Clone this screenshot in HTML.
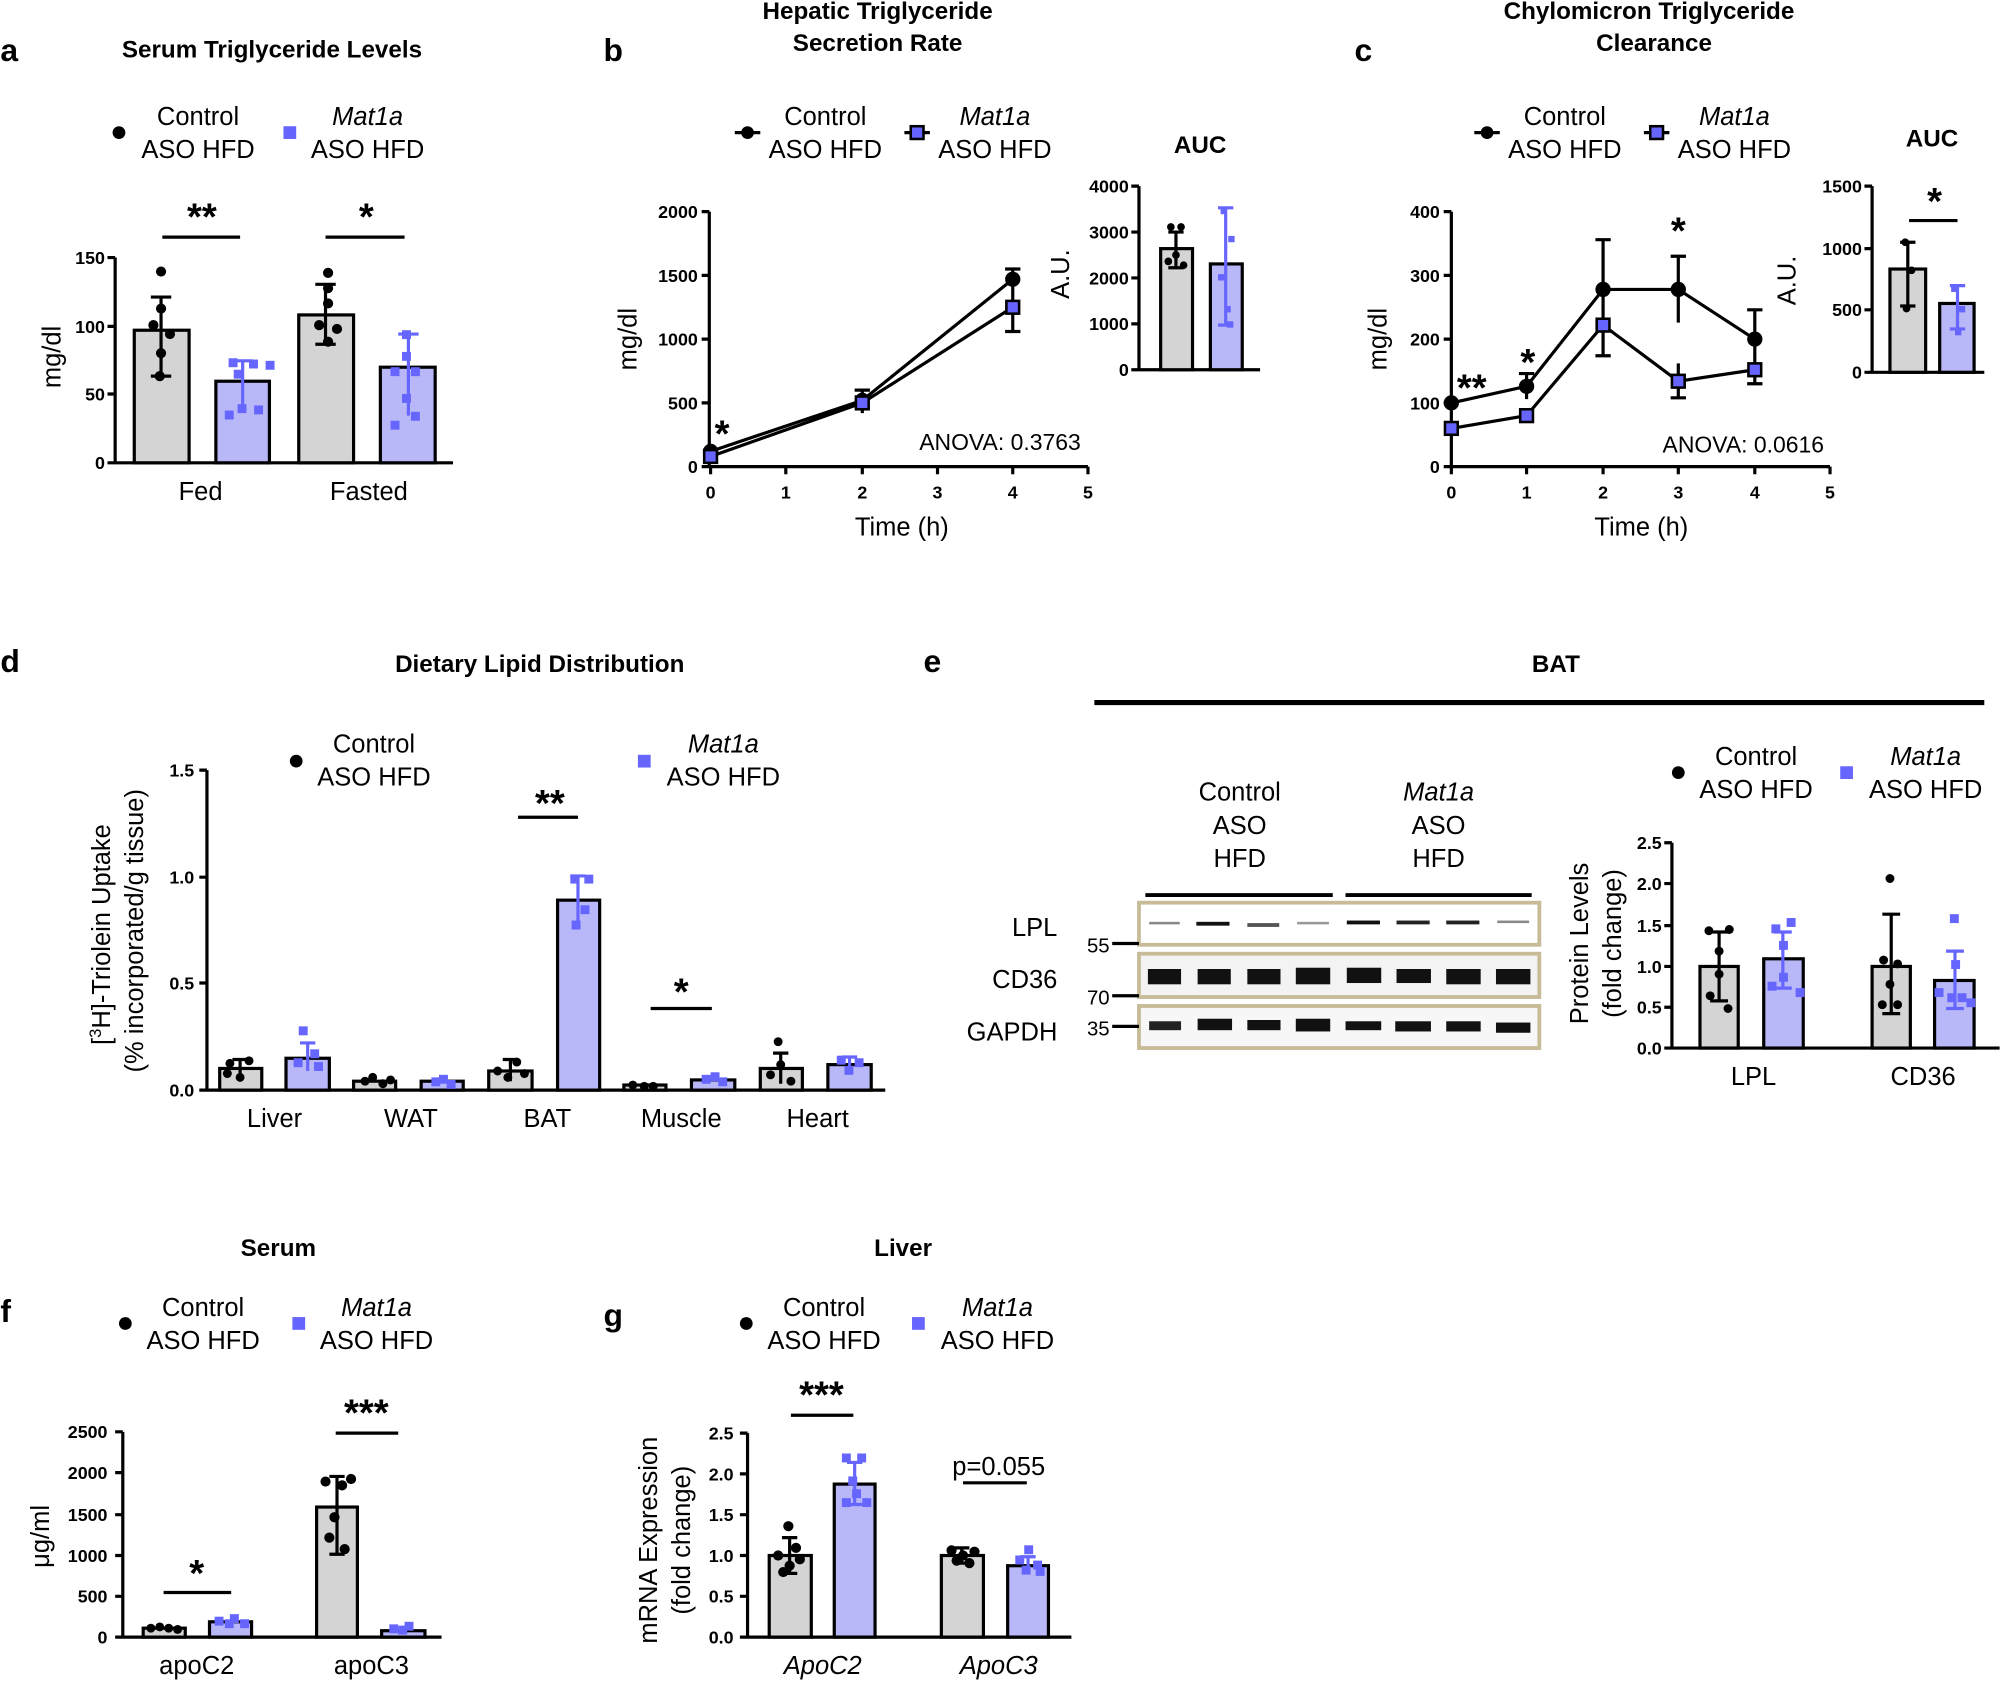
<!DOCTYPE html>
<html><head><meta charset="utf-8"><style>
html,body{margin:0;padding:0;background:#fff}
svg{display:block}
text{font-family:"Liberation Sans",sans-serif;fill:#000}
.t{font-size:20px}
.st{font-size:28px;font-weight:bold}
.k{font-size:14px;font-weight:bold}
.b{font-weight:bold;font-size:19px}
.L{font-weight:bold;font-size:25px}
.ax{stroke:#000;stroke-width:2.5;fill:none}
.g{fill:#d4d4d4;stroke:#000;stroke-width:2.5}
.p{fill:#b8b7f7;stroke:#000;stroke-width:2.5}
.e{stroke:#000;stroke-width:2.5;fill:none}
.ep{stroke:#6666ff;stroke-width:2.5;fill:none}
.d{fill:#000}
.s{fill:#6666ff}
.band{fill:#111}
</style></head><body>
<svg width="2000" height="1683" viewBox="0 0 1568 1320" xmlns="http://www.w3.org/2000/svg">
<!-- Panel a -->
<text class="L" x="0" y="48">a</text>
<text class="b" x="213" y="45" text-anchor="middle">Serum Triglyceride Levels</text>
<circle cx="93" cy="104" r="5" class="d"/><text class="t" x="155" y="98" text-anchor="middle">Control</text><text class="t" x="155" y="124" text-anchor="middle">ASO HFD</text>
<rect x="222" y="99" width="10" height="10" class="s"/><text class="t" x="288" y="98" text-anchor="middle" font-style="italic">Mat1a</text><text class="t" x="288" y="124" text-anchor="middle">ASO HFD</text>
<path class="ax" d="M90 202V363H355M84 363H90M84 309H90M84 256H90M84 202H90"/>
<text class="k" x="82" y="368" text-anchor="end">0</text><text class="k" x="82" y="314" text-anchor="end">50</text><text class="k" x="82" y="261" text-anchor="end">100</text><text class="k" x="82" y="207" text-anchor="end">150</text>
<text class="t" transform="translate(47,280) rotate(-90)" text-anchor="middle">mg/dl</text>
<rect class="g" x="105" y="259" width="43" height="104"/><rect class="p" x="169" y="299" width="42" height="64"/>
<rect class="g" x="234" y="247" width="43" height="116"/><rect class="p" x="298" y="288" width="43" height="75"/>
<path class="e" d="M126 233V295M118 233H134M118 295H134M255 223V270M247 223H263M247 270H263"/>
<path class="ep" d="M190 283V318M182 283H198M320 262V326M312 262H328"/>
<circle class="d" cx="126" cy="213" r="4"/><circle class="d" cx="126" cy="242" r="4"/><circle class="d" cx="120" cy="255" r="4"/><circle class="d" cx="133" cy="262" r="4"/><circle class="d" cx="126" cy="277" r="4"/><circle class="d" cx="125" cy="295" r="4"/>
<circle class="d" cx="257" cy="214" r="4"/><circle class="d" cx="257" cy="226" r="4"/><circle class="d" cx="257" cy="238" r="4"/><circle class="d" cx="250" cy="255" r="4"/><circle class="d" cx="264" cy="258" r="4"/><circle class="d" cx="257" cy="268" r="4"/>
<rect class="s" x="216" y="180" width="0" height="0"/>
<rect class="s" x="179" y="281" width="7" height="7"/><rect class="s" x="195" y="282" width="7" height="7"/><rect class="s" x="208" y="283" width="7" height="7"/><rect class="s" x="183" y="290" width="7" height="7"/><rect class="s" x="186" y="317" width="7" height="7"/><rect class="s" x="199" y="318" width="7" height="7"/><rect class="s" x="176" y="322" width="7" height="7"/>
<rect class="s" x="315" y="259" width="7" height="7"/><rect class="s" x="315" y="276" width="7" height="7"/><rect class="s" x="306" y="288" width="7" height="7"/><rect class="s" x="322" y="288" width="7" height="7"/><rect class="s" x="315" y="309" width="7" height="7"/><rect class="s" x="322" y="323" width="7" height="7"/><rect class="s" x="306" y="330" width="7" height="7"/>
<path class="e" d="M127 186H188M255 186H317"/>
<text class="st" x="158" y="180" text-anchor="middle" style="font-size:30px">**</text><text class="st" x="287" y="180" text-anchor="middle" style="font-size:30px">*</text>
<text class="t" x="157" y="392" text-anchor="middle">Fed</text><text class="t" x="289" y="392" text-anchor="middle">Fasted</text>

<!-- Panel b -->
<text class="L" x="473" y="48">b</text>
<text class="b" x="688" y="15" text-anchor="middle">Hepatic Triglyceride</text><text class="b" x="688" y="40" text-anchor="middle">Secretion Rate</text>
<path class="e" d="M576 104H596"/><circle cx="586" cy="104" r="5" class="d"/><text class="t" x="647" y="98" text-anchor="middle">Control</text><text class="t" x="647" y="124" text-anchor="middle">ASO HFD</text>
<path class="e" d="M709 104H729"/><rect x="714" y="99" width="10" height="10" fill="#6666ff" stroke="#000" stroke-width="2"/><text class="t" x="780" y="98" text-anchor="middle" font-style="italic">Mat1a</text><text class="t" x="780" y="124" text-anchor="middle">ASO HFD</text>
<path class="ax" d="M556 166V366H853M550 366H556M550 316H556M550 266H556M550 216H556M550 166H556M557 366V372M616 366V372M676 366V372M735 366V372M794 366V372M853 366V372"/>
<text class="k" x="547" y="371" text-anchor="end">0</text><text class="k" x="547" y="321" text-anchor="end">500</text><text class="k" x="547" y="271" text-anchor="end">1000</text><text class="k" x="547" y="221" text-anchor="end">1500</text><text class="k" x="547" y="171" text-anchor="end">2000</text>
<text class="k" x="557" y="391" text-anchor="middle">0</text><text class="k" x="616" y="391" text-anchor="middle">1</text><text class="k" x="676" y="391" text-anchor="middle">2</text><text class="k" x="735" y="391" text-anchor="middle">3</text><text class="k" x="794" y="391" text-anchor="middle">4</text><text class="k" x="853" y="391" text-anchor="middle">5</text>
<text class="t" x="707" y="420" text-anchor="middle">Time (h)</text>
<text class="t" transform="translate(499,266) rotate(-90)" text-anchor="middle">mg/dl</text>
<path class="e" d="M557 354L676 314L794 219M557 358L676 316L794 241M676 306V324M670 306H682M794 211V260M788 211H800M788 260H800"/>
<circle class="d" cx="557" cy="354" r="6"/><circle class="d" cx="676" cy="314" r="6"/><circle class="d" cx="794" cy="219" r="6"/>
<rect x="552" y="353" width="10" height="10" fill="#6666ff" stroke="#000" stroke-width="2"/><rect x="671" y="311" width="10" height="10" fill="#6666ff" stroke="#000" stroke-width="2"/><rect x="789" y="236" width="10" height="10" fill="#6666ff" stroke="#000" stroke-width="2"/>
<text class="st" x="566" y="350" text-anchor="middle" style="font-size:30px">*</text>
<text class="t" x="784" y="353" text-anchor="middle" style="font-size:18px">ANOVA: 0.3763</text>
<text class="b" x="941" y="120" text-anchor="middle">AUC</text>
<text class="t" transform="translate(838,215) rotate(-90)" text-anchor="middle">A.U.</text>
<path class="ax" d="M893 146V290H988M887 290H893M887 254H893M887 218H893M887 182H893M887 146H893"/>
<text class="k" x="885" y="295" text-anchor="end">0</text><text class="k" x="885" y="259" text-anchor="end">1000</text><text class="k" x="885" y="223" text-anchor="end">2000</text><text class="k" x="885" y="187" text-anchor="end">3000</text><text class="k" x="885" y="151" text-anchor="end">4000</text>
<rect class="g" x="910" y="195" width="25" height="95"/><rect class="p" x="949" y="207" width="25" height="83"/>
<path class="e" d="M922 182V210M916 182H928M916 210H928"/><path class="ep" d="M961 163V255M955 163H967M955 255H967"/>
<circle class="d" cx="918" cy="178" r="3"/><circle class="d" cx="926" cy="178" r="3"/><circle class="d" cx="922" cy="200" r="3"/><circle class="d" cx="928" cy="208" r="3"/><circle class="d" cx="916" cy="205" r="3"/>
<rect class="s" x="957" y="163" width="5" height="5"/><rect class="s" x="963" y="185" width="5" height="5"/><rect class="s" x="955" y="215" width="5" height="5"/><rect class="s" x="960" y="240" width="5" height="5"/><rect class="s" x="962" y="252" width="5" height="5"/>

<!-- Panel c -->
<text class="L" x="1062" y="48">c</text>
<text class="b" x="1293" y="15" text-anchor="middle">Chylomicron Triglyceride</text><text class="b" x="1297" y="40" text-anchor="middle">Clearance</text>
<path class="e" d="M1156 104H1176"/><circle cx="1166" cy="104" r="5" class="d"/><text class="t" x="1227" y="98" text-anchor="middle">Control</text><text class="t" x="1227" y="124" text-anchor="middle">ASO HFD</text>
<path class="e" d="M1289 104H1309"/><rect x="1294" y="99" width="10" height="10" fill="#6666ff" stroke="#000" stroke-width="2"/><text class="t" x="1360" y="98" text-anchor="middle" font-style="italic">Mat1a</text><text class="t" x="1360" y="124" text-anchor="middle">ASO HFD</text>
<path class="ax" d="M1138 166V366H1435M1132 366H1138M1132 316H1138M1132 266H1138M1132 216H1138M1132 166H1138M1138 366V372M1197 366V372M1257 366V372M1316 366V372M1376 366V372M1435 366V372"/>
<text class="k" x="1129" y="371" text-anchor="end">0</text><text class="k" x="1129" y="321" text-anchor="end">100</text><text class="k" x="1129" y="271" text-anchor="end">200</text><text class="k" x="1129" y="221" text-anchor="end">300</text><text class="k" x="1129" y="171" text-anchor="end">400</text>
<text class="k" x="1138" y="391" text-anchor="middle">0</text><text class="k" x="1197" y="391" text-anchor="middle">1</text><text class="k" x="1257" y="391" text-anchor="middle">2</text><text class="k" x="1316" y="391" text-anchor="middle">3</text><text class="k" x="1376" y="391" text-anchor="middle">4</text><text class="k" x="1435" y="391" text-anchor="middle">5</text>
<text class="t" x="1287" y="420" text-anchor="middle">Time (h)</text>
<text class="t" transform="translate(1087,266) rotate(-90)" text-anchor="middle">mg/dl</text>
<path class="e" d="M1138 316L1197 303L1257 227L1316 227L1376 266M1138 336L1197 326L1257 255L1316 299L1376 290"/>
<path class="e" d="M1197 293V313M1191 293H1203M1257 188V279M1251 188H1263M1251 279H1263M1316 201V253M1310 201H1322M1316 285V312M1310 312H1322M1376 243V301M1370 243H1382M1370 301H1382"/>
<circle class="d" cx="1138" cy="316" r="6"/><circle class="d" cx="1197" cy="303" r="6"/><circle class="d" cx="1257" cy="227" r="6"/><circle class="d" cx="1316" cy="227" r="6"/><circle class="d" cx="1376" cy="266" r="6"/>
<rect x="1133" y="331" width="10" height="10" fill="#6666ff" stroke="#000" stroke-width="2"/><rect x="1192" y="321" width="10" height="10" fill="#6666ff" stroke="#000" stroke-width="2"/><rect x="1252" y="250" width="10" height="10" fill="#6666ff" stroke="#000" stroke-width="2"/><rect x="1311" y="294" width="10" height="10" fill="#6666ff" stroke="#000" stroke-width="2"/><rect x="1371" y="285" width="10" height="10" fill="#6666ff" stroke="#000" stroke-width="2"/>
<text class="st" x="1154" y="314" text-anchor="middle" style="font-size:30px">**</text><text class="st" x="1198" y="294" text-anchor="middle" style="font-size:30px">*</text><text class="st" x="1316" y="191" text-anchor="middle" style="font-size:30px">*</text>
<text class="t" x="1367" y="355" text-anchor="middle" style="font-size:18px">ANOVA: 0.0616</text>
<text class="b" x="1515" y="115" text-anchor="middle">AUC</text>
<text class="t" transform="translate(1408,220) rotate(-90)" text-anchor="middle">A.U.</text>
<path class="ax" d="M1468 146V292H1556M1462 292H1468M1462 243H1468M1462 195H1468M1462 146H1468"/>
<text class="k" x="1460" y="297" text-anchor="end">0</text><text class="k" x="1460" y="248" text-anchor="end">500</text><text class="k" x="1460" y="200" text-anchor="end">1000</text><text class="k" x="1460" y="151" text-anchor="end">1500</text>
<rect class="g" x="1482" y="211" width="28" height="81"/><rect class="p" x="1521" y="238" width="27" height="54"/>
<path class="e" d="M1496 190V240M1490 190H1502M1490 240H1502"/><path class="ep" d="M1535 224V258M1529 224H1541M1529 258H1541"/>
<circle class="d" cx="1494" cy="190" r="3"/><circle class="d" cx="1499" cy="212" r="3"/><circle class="d" cx="1495" cy="242" r="3"/>
<rect class="s" x="1530" y="224" width="5" height="5"/><rect class="s" x="1536" y="240" width="5" height="5"/><rect class="s" x="1533" y="258" width="5" height="5"/>
<path class="e" d="M1497 173H1535"/><text class="st" x="1517" y="168" text-anchor="middle" style="font-size:30px">*</text>

<!-- Panel d -->
<text class="L" x="0" y="527">d</text>
<text class="b" x="423" y="527" text-anchor="middle">Dietary Lipid Distribution</text>
<circle cx="232" cy="597" r="5" class="d"/><text class="t" x="293" y="590" text-anchor="middle">Control</text><text class="t" x="293" y="616" text-anchor="middle">ASO HFD</text>
<rect x="500" y="592" width="10" height="10" class="s"/><text class="t" x="567" y="590" text-anchor="middle" font-style="italic">Mat1a</text><text class="t" x="567" y="616" text-anchor="middle">ASO HFD</text>
<path class="ax" d="M162 604V855H694M156 855H162M156 771H162M156 688H162M156 604H162"/>
<text class="k" x="152" y="860" text-anchor="end">0.0</text><text class="k" x="152" y="776" text-anchor="end">0.5</text><text class="k" x="152" y="693" text-anchor="end">1.0</text><text class="k" x="152" y="609" text-anchor="end">1.5</text>
<text class="t" transform="translate(86,733) rotate(-90)" text-anchor="middle">[<tspan style="font-size:13px" dy="-7">3</tspan><tspan dy="7">H]-Triolein Uptake</tspan></text>
<text class="t" transform="translate(112,730) rotate(-90)" text-anchor="middle">(% incorporated/g tissue)</text>
<rect class="g" x="172" y="838" width="33" height="17"/><rect class="p" x="224" y="830" width="34" height="25"/>
<rect class="g" x="277" y="848" width="33" height="7"/><rect class="p" x="330" y="848" width="33" height="7"/>
<rect class="g" x="383" y="840" width="34" height="15"/><rect class="p" x="437" y="706" width="33" height="149"/>
<rect class="g" x="489" y="851" width="33" height="4"/><rect class="p" x="542" y="847" width="34" height="8"/>
<rect class="g" x="596" y="838" width="33" height="17"/><rect class="p" x="649" y="835" width="34" height="20"/>
<path class="e" d="M188 831V846M182 831H194M400 831V848M394 831H406M612 826V850M606 826H618"/>
<path class="ep" d="M241 818V840M235 818H247M453 687V723M447 687H459M666 829V840M660 829H672"/>
<circle class="d" cx="180" cy="834" r="3.5"/><circle class="d" cx="195" cy="832" r="3.5"/><circle class="d" cx="188" cy="845" r="3.5"/><circle class="d" cx="178" cy="842" r="3.5"/><circle class="d" cx="286" cy="848" r="3.5"/><circle class="d" cx="300" cy="850" r="3.5"/><circle class="d" cx="292" cy="845" r="3.5"/><circle class="d" cx="306" cy="847" r="3.5"/>
<circle class="d" cx="390" cy="840" r="3.5"/><circle class="d" cx="405" cy="833" r="3.5"/><circle class="d" cx="398" cy="845" r="3.5"/><circle class="d" cx="411" cy="842" r="3.5"/><circle class="d" cx="496" cy="851" r="3.5"/><circle class="d" cx="505" cy="852" r="3.5"/><circle class="d" cx="512" cy="852" r="3.5"/>
<circle class="d" cx="610" cy="817" r="3.5"/><circle class="d" cx="604" cy="843" r="3.5"/><circle class="d" cx="620" cy="848" r="3.5"/><circle class="d" cx="612" cy="835" r="3.5"/>
<rect class="s" x="234" y="805" width="7" height="7"/><rect class="s" x="243" y="823" width="7" height="7"/><rect class="s" x="230" y="830" width="7" height="7"/><rect class="s" x="246" y="833" width="7" height="7"/>
<rect class="s" x="338" y="845" width="7" height="7"/><rect class="s" x="350" y="847" width="7" height="7"/><rect class="s" x="344" y="843" width="7" height="7"/>
<rect class="s" x="447" y="686" width="7" height="7"/><rect class="s" x="455" y="710" width="7" height="7"/><rect class="s" x="448" y="722" width="7" height="7"/><rect class="s" x="458" y="686" width="7" height="7"/>
<rect class="s" x="550" y="843" width="7" height="7"/><rect class="s" x="563" y="845" width="7" height="7"/><rect class="s" x="557" y="841" width="7" height="7"/>
<rect class="s" x="656" y="828" width="7" height="7"/><rect class="s" x="670" y="830" width="7" height="7"/><rect class="s" x="662" y="836" width="7" height="7"/>
<path class="e" d="M406 641H453M510 791H558"/>
<text class="st" x="431" y="640" text-anchor="middle" style="font-size:30px">**</text><text class="st" x="534" y="788" text-anchor="middle" style="font-size:30px">*</text>
<text class="t" x="215" y="884" text-anchor="middle">Liver</text><text class="t" x="322" y="884" text-anchor="middle">WAT</text><text class="t" x="429" y="884" text-anchor="middle">BAT</text><text class="t" x="534" y="884" text-anchor="middle">Muscle</text><text class="t" x="641" y="884" text-anchor="middle">Heart</text>

<!-- Panel e -->
<text class="L" x="724" y="527">e</text>
<text class="b" x="1220" y="527" text-anchor="middle">BAT</text>
<path d="M858 551H1556" stroke="#000" stroke-width="4"/>
<text class="t" x="972" y="628" text-anchor="middle">Control</text><text class="t" x="972" y="654" text-anchor="middle">ASO</text><text class="t" x="972" y="680" text-anchor="middle">HFD</text>
<text class="t" x="1128" y="628" text-anchor="middle" font-style="italic">Mat1a</text><text class="t" x="1128" y="654" text-anchor="middle">ASO</text><text class="t" x="1128" y="680" text-anchor="middle">HFD</text>
<path d="M898 702H1045M1055 702H1201" stroke="#000" stroke-width="3"/>
<rect x="893" y="708" width="314" height="33" fill="#fff" stroke="#c7bb98" stroke-width="3"/>
<rect x="893" y="748" width="314" height="34" fill="#f3f3f3" stroke="#c7bb98" stroke-width="3"/>
<rect x="893" y="789" width="314" height="33" fill="#f7f7f7" stroke="#c7bb98" stroke-width="3"/>
<g class="band">
<rect x="901" y="723" width="24" height="2" fill="#888"/><rect x="938" y="723" width="26" height="3"/><rect x="978" y="724" width="25" height="3" fill="#555"/><rect x="1017" y="723" width="25" height="2" fill="#999"/><rect x="1056" y="722" width="26" height="3"/><rect x="1095" y="722" width="26" height="3" fill="#222"/><rect x="1134" y="722" width="26" height="3" fill="#222"/><rect x="1174" y="722" width="25" height="2" fill="#888"/>
<rect x="900" y="760" width="26" height="12"/><rect x="939" y="760" width="26" height="12"/><rect x="978" y="760" width="26" height="12"/><rect x="1016" y="759" width="27" height="13"/><rect x="1056" y="759" width="27" height="12"/><rect x="1095" y="760" width="27" height="11"/><rect x="1134" y="760" width="27" height="12"/><rect x="1173" y="760" width="27" height="12"/>
<rect x="901" y="801" width="25" height="7" fill="#222"/><rect x="939" y="799" width="27" height="9"/><rect x="978" y="800" width="26" height="8"/><rect x="1016" y="799" width="27" height="10"/><rect x="1055" y="801" width="28" height="7"/><rect x="1094" y="801" width="28" height="8"/><rect x="1134" y="801" width="27" height="8"/><rect x="1173" y="802" width="27" height="8"/>
</g>
<text class="t" x="829" y="734" text-anchor="end">LPL</text><text class="t" x="829" y="775" text-anchor="end">CD36</text><text class="t" x="829" y="816" text-anchor="end">GAPDH</text>
<text class="t" x="870" y="747" text-anchor="end" style="font-size:16px">55</text><text class="t" x="870" y="788" text-anchor="end" style="font-size:16px">70</text><text class="t" x="870" y="812" text-anchor="end" style="font-size:16px">35</text>
<path d="M872 740H893M872 781H893M872 805H893" stroke="#000" stroke-width="2.5"/>
<circle cx="1316" cy="606" r="5" class="d"/><text class="t" x="1377" y="600" text-anchor="middle">Control</text><text class="t" x="1377" y="626" text-anchor="middle">ASO HFD</text>
<rect x="1443" y="601" width="10" height="10" class="s"/><text class="t" x="1510" y="600" text-anchor="middle" font-style="italic">Mat1a</text><text class="t" x="1510" y="626" text-anchor="middle">ASO HFD</text>
<path class="ax" d="M1311 661V822H1568M1305 822H1311M1305 790H1311M1305 758H1311M1305 726H1311M1305 693H1311M1305 661H1311"/>
<text class="k" x="1303" y="827" text-anchor="end">0.0</text><text class="k" x="1303" y="795" text-anchor="end">0.5</text><text class="k" x="1303" y="763" text-anchor="end">1.0</text><text class="k" x="1303" y="731" text-anchor="end">1.5</text><text class="k" x="1303" y="698" text-anchor="end">2.0</text><text class="k" x="1303" y="666" text-anchor="end">2.5</text>
<text class="t" transform="translate(1245,740) rotate(-90)" text-anchor="middle">Protein Levels</text><text class="t" transform="translate(1271,740) rotate(-90)" text-anchor="middle">(fold change)</text>
<rect class="g" x="1333" y="758" width="30" height="64"/><rect class="p" x="1383" y="752" width="31" height="70"/>
<rect class="g" x="1468" y="758" width="30" height="64"/><rect class="p" x="1517" y="769" width="31" height="53"/>
<path class="e" d="M1348 731V785M1341 731H1355M1341 785H1355M1483 717V795M1476 717H1490M1476 795H1490"/>
<path class="ep" d="M1398 731V775M1391 731H1405M1391 775H1405M1533 746V791M1526 746H1540M1526 791H1540"/>
<circle class="d" cx="1340" cy="730" r="3.5"/><circle class="d" cx="1356" cy="729" r="3.5"/><circle class="d" cx="1348" cy="746" r="3.5"/><circle class="d" cx="1348" cy="764" r="3.5"/><circle class="d" cx="1341" cy="781" r="3.5"/><circle class="d" cx="1355" cy="791" r="3.5"/>
<circle class="d" cx="1482" cy="689" r="3.5"/><circle class="d" cx="1477" cy="753" r="3.5"/><circle class="d" cx="1488" cy="756" r="3.5"/><circle class="d" cx="1482" cy="772" r="3.5"/><circle class="d" cx="1476" cy="788" r="3.5"/><circle class="d" cx="1488" cy="788" r="3.5"/>
<rect class="s" x="1389" y="725" width="7" height="7"/><rect class="s" x="1401" y="720" width="7" height="7"/><rect class="s" x="1395" y="738" width="7" height="7"/><rect class="s" x="1386" y="770" width="7" height="7"/><rect class="s" x="1395" y="763" width="7" height="7"/><rect class="s" x="1408" y="775" width="7" height="7"/>
<rect class="s" x="1529" y="717" width="7" height="7"/><rect class="s" x="1530" y="753" width="7" height="7"/><rect class="s" x="1517" y="775" width="7" height="7"/><rect class="s" x="1527" y="779" width="7" height="7"/><rect class="s" x="1535" y="779" width="7" height="7"/><rect class="s" x="1542" y="783" width="7" height="7"/>
<text class="t" x="1375" y="851" text-anchor="middle">LPL</text><text class="t" x="1508" y="851" text-anchor="middle">CD36</text>

<!-- Panel f -->
<text class="b" x="218" y="985" text-anchor="middle">Serum</text>
<text class="L" x="0" y="1037">f</text>
<circle cx="98" cy="1038" r="5" class="d"/><text class="t" x="159" y="1032" text-anchor="middle">Control</text><text class="t" x="159" y="1058" text-anchor="middle">ASO HFD</text>
<rect x="229" y="1033" width="10" height="10" class="s"/><text class="t" x="295" y="1032" text-anchor="middle" font-style="italic">Mat1a</text><text class="t" x="295" y="1058" text-anchor="middle">ASO HFD</text>
<path class="ax" d="M96 1123V1284H346M90 1284H96M90 1252H96M90 1220H96M90 1188H96M90 1155H96M90 1123H96"/>
<text class="k" x="84" y="1289" text-anchor="end">0</text><text class="k" x="84" y="1257" text-anchor="end">500</text><text class="k" x="84" y="1225" text-anchor="end">1000</text><text class="k" x="84" y="1193" text-anchor="end">1500</text><text class="k" x="84" y="1160" text-anchor="end">2000</text><text class="k" x="84" y="1128" text-anchor="end">2500</text>
<text class="t" transform="translate(38,1205) rotate(-90)" text-anchor="middle">μg/ml</text>
<rect class="g" x="112" y="1277" width="33" height="7"/><rect class="p" x="164" y="1272" width="33" height="12"/>
<rect class="g" x="248" y="1182" width="32" height="102"/><rect class="p" x="299" y="1279" width="34" height="5"/>
<path class="e" d="M264 1158V1219M258 1158H270M258 1219H270"/>
<circle class="d" cx="118" cy="1277" r="3.5"/><circle class="d" cx="125" cy="1276" r="3.5"/><circle class="d" cx="132" cy="1277" r="3.5"/><circle class="d" cx="139" cy="1278" r="3.5"/>
<circle class="d" cx="255" cy="1162" r="4"/><circle class="d" cx="268" cy="1165" r="4"/><circle class="d" cx="275" cy="1160" r="4"/><circle class="d" cx="262" cy="1190" r="4"/><circle class="d" cx="258" cy="1206" r="4"/><circle class="d" cx="270" cy="1215" r="4"/>
<rect class="s" x="168" y="1268" width="7" height="7"/><rect class="s" x="176" y="1270" width="7" height="7"/><rect class="s" x="180" y="1266" width="7" height="7"/><rect class="s" x="188" y="1270" width="7" height="7"/><rect class="s" x="305" y="1274" width="7" height="7"/><rect class="s" x="312" y="1275" width="7" height="7"/><rect class="s" x="317" y="1272" width="7" height="7"/>
<path class="e" d="M128 1249H181M263 1124H312"/>
<text class="st" x="154" y="1244" text-anchor="middle" style="font-size:30px">*</text><text class="st" x="287" y="1118" text-anchor="middle" style="font-size:30px">***</text>
<text class="t" x="154" y="1313" text-anchor="middle">apoC2</text><text class="t" x="291" y="1313" text-anchor="middle">apoC3</text>

<!-- Panel g -->
<text class="b" x="708" y="985" text-anchor="middle">Liver</text>
<text class="L" x="473" y="1040">g</text>
<circle cx="585" cy="1038" r="5" class="d"/><text class="t" x="646" y="1032" text-anchor="middle">Control</text><text class="t" x="646" y="1058" text-anchor="middle">ASO HFD</text>
<rect x="715" y="1033" width="10" height="10" class="s"/><text class="t" x="782" y="1032" text-anchor="middle" font-style="italic">Mat1a</text><text class="t" x="782" y="1058" text-anchor="middle">ASO HFD</text>
<path class="ax" d="M586 1124V1284H840M580 1284H586M580 1252H586M580 1220H586M580 1188H586M580 1156H586M580 1124H586"/>
<text class="k" x="575" y="1289" text-anchor="end">0.0</text><text class="k" x="575" y="1257" text-anchor="end">0.5</text><text class="k" x="575" y="1225" text-anchor="end">1.0</text><text class="k" x="575" y="1193" text-anchor="end">1.5</text><text class="k" x="575" y="1161" text-anchor="end">2.0</text><text class="k" x="575" y="1129" text-anchor="end">2.5</text>
<text class="t" transform="translate(515,1208) rotate(-90)" text-anchor="middle">mRNA Expression</text><text class="t" transform="translate(541,1208) rotate(-90)" text-anchor="middle">(fold change)</text>
<rect class="g" x="603" y="1220" width="33" height="64"/><rect class="p" x="654" y="1164" width="32" height="120"/>
<rect class="g" x="738" y="1220" width="33" height="64"/><rect class="p" x="790" y="1228" width="32" height="56"/>
<path class="e" d="M619 1206V1234M613 1206H625M613 1234H625M754 1214V1226M748 1214H760M748 1226H760"/>
<path class="ep" d="M670 1147V1180M664 1147H676M664 1180H676M806 1221V1234M800 1221H812"/>
<circle class="d" cx="618" cy="1197" r="4"/><circle class="d" cx="610" cy="1220" r="4"/><circle class="d" cx="627" cy="1223" r="4"/><circle class="d" cx="614" cy="1233" r="4"/><circle class="d" cx="624" cy="1214" r="4"/><circle class="d" cx="619" cy="1228" r="4"/>
<circle class="d" cx="746" cy="1216" r="4"/><circle class="d" cx="755" cy="1220" r="4"/><circle class="d" cx="764" cy="1217" r="4"/><circle class="d" cx="760" cy="1226" r="4"/><circle class="d" cx="750" cy="1224" r="4"/>
<rect class="s" x="660" y="1140" width="7" height="7"/><rect class="s" x="672" y="1140" width="7" height="7"/><rect class="s" x="665" y="1158" width="7" height="7"/><rect class="s" x="676" y="1175" width="7" height="7"/><rect class="s" x="660" y="1175" width="7" height="7"/><rect class="s" x="668" y="1168" width="7" height="7"/>
<rect class="s" x="796" y="1220" width="7" height="7"/><rect class="s" x="803" y="1212" width="7" height="7"/><rect class="s" x="810" y="1224" width="7" height="7"/><rect class="s" x="801" y="1228" width="7" height="7"/><rect class="s" x="812" y="1229" width="7" height="7"/>
<path class="e" d="M620 1110H669M755 1163H805"/>
<text class="st" x="644" y="1104" text-anchor="middle" style="font-size:30px">***</text><text class="t" x="783" y="1157" text-anchor="middle">p=0.055</text>
<text class="t" x="645" y="1313" text-anchor="middle" font-style="italic">ApoC2</text><text class="t" x="783" y="1313" text-anchor="middle" font-style="italic">ApoC3</text>
</svg>
</body></html>
